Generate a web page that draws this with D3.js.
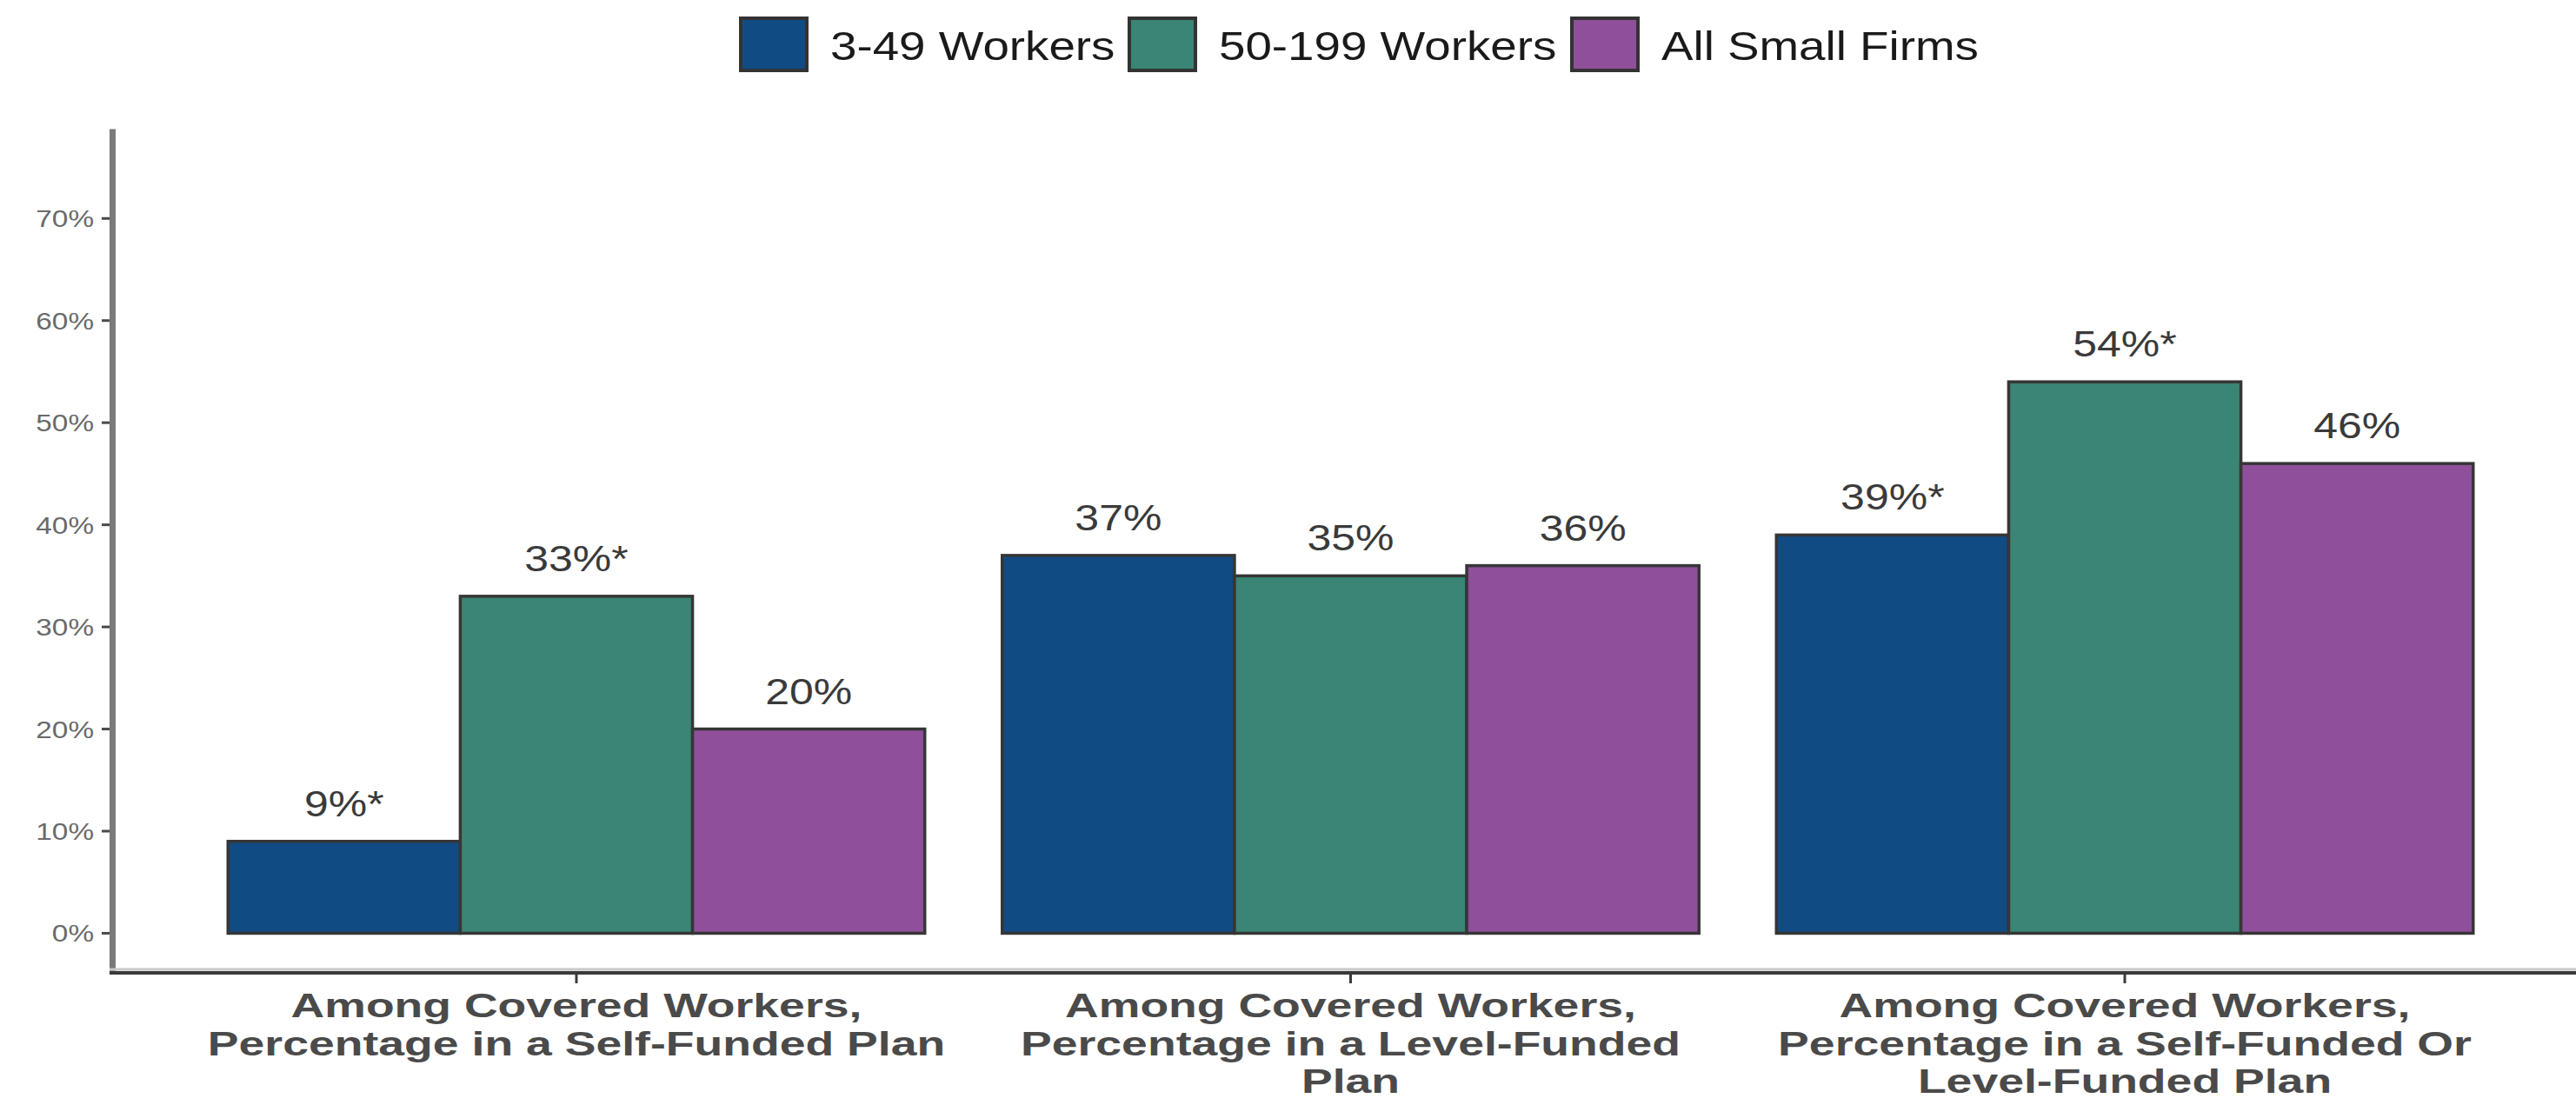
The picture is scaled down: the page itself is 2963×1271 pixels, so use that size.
<!DOCTYPE html>
<html>
<head>
<meta charset="utf-8">
<script src="https://cdn.jsdelivr.net/npm/d3@7"></script>
<style>
  html, body { margin: 0; padding: 0; background: #ffffff; }
  svg { display: block; }
  text { font-family: "Liberation Sans", Arial, Helvetica, sans-serif; }
</style>
</head>
<body>
<svg id="chart" width="2963" height="1271"></svg>
<script>
// Funding arrangements among covered workers at small firms
const categories = [
  ["Among Covered Workers,", "Percentage in a Self-Funded Plan"],
  ["Among Covered Workers,", "Percentage in a Level-Funded", "Plan"],
  ["Among Covered Workers,", "Percentage in a Self-Funded Or", "Level-Funded Plan"]
];
const series = ["3-49 Workers", "50-199 Workers", "All Small Firms"];
const seriesColors = ["#114B84", "#3A8574", "#904F9B"];
const values3to49 = [9, 37, 39];
const values50to199 = [33, 35, 54];
const valuesAllSmall = [20, 36, 46];
const labels3to49 = ["9%*", "37%", "39%*"];
const labels50to199 = ["33%*", "35%", "54%*"];
const labelsAllSmall = ["20%", "36%", "46%"];
const yTicks = [0, 10, 20, 30, 40, 50, 60, 70];

const seriesValues = [values3to49, values50to199, valuesAllSmall];
const seriesLabels = [labels3to49, labels50to199, labelsAllSmall];
const catKeys = categories.map((c, i) => "c" + i);

const svg = d3.select("#chart");
const SX = 1.19; // horizontal text stretch

function stretchedText(sel, x, y, sx = SX) {
  return sel.attr("transform", `translate(${x},${y}) scale(${sx},1)`);
}

// Scales
const x0 = d3.scaleBand().domain(catKeys).range([128.7, 2978.3])
  .paddingInner(0.1).paddingOuter(0.15);
const x1 = d3.scaleBand().domain(series).range([0, x0.bandwidth()]).padding(0);
const y = d3.scaleLinear().domain([-3.75, 78.75]).range([1117.5, 148.5]);
const color = d3.scaleOrdinal().domain(series).range(seriesColors);

// Bars
const rows = [];
catKeys.forEach((k, ci) => {
  series.forEach((s, si) => {
    rows.push({ cat: k, series: s, value: seriesValues[si][ci], label: seriesLabels[si][ci] });
  });
});

svg.append("g").selectAll("rect").data(rows).join("rect")
  .attr("x", d => x0(d.cat) + x1(d.series))
  .attr("y", d => y(d.value))
  .attr("width", x1.bandwidth())
  .attr("height", d => y(0) - y(d.value))
  .attr("fill", d => color(d.series))
  .attr("stroke", "#363636")
  .attr("stroke-width", 3.5);

// Value labels
svg.append("g").selectAll("text").data(rows).join("text")
  .each(function(d) {
    stretchedText(d3.select(this), x0(d.cat) + x1(d.series) + x1.bandwidth() / 2, y(d.value) - 29);
  })
  .attr("text-anchor", "middle")
  .attr("font-size", 42)
  .attr("fill", "#3a3a3a")
  .text(d => d.label);

// Y axis
const yAxisG = svg.append("g");
yAxisG.append("line")
  .attr("x1", 129.5).attr("x2", 129.5)
  .attr("y1", y(78.75)).attr("y2", 1121)
  .attr("stroke", "#7a7a7a").attr("stroke-width", 7);
yAxisG.selectAll("line.tick").data(yTicks).join("line")
  .attr("class", "tick")
  .attr("x1", 117).attr("x2", 126)
  .attr("y1", d => y(d)).attr("y2", d => y(d))
  .attr("stroke", "#4a4a4a").attr("stroke-width", 3);
yAxisG.selectAll("text").data(yTicks).join("text")
  .each(function(d) { stretchedText(d3.select(this), 108, y(d) + 10); })
  .attr("text-anchor", "end")
  .attr("font-size", 28)
  .attr("fill", "#6a6a6a")
  .text(d => d3.format(".0%")(d / 100));

// X axis
const xAxisG = svg.append("g");
xAxisG.append("line")
  .attr("x1", 126).attr("x2", 2963)
  .attr("y1", 1115).attr("y2", 1115)
  .attr("stroke", "#c8c8c8").attr("stroke-width", 3);
xAxisG.append("line")
  .attr("x1", 126).attr("x2", 2963)
  .attr("y1", 1119).attr("y2", 1119)
  .attr("stroke", "#3a3a3a").attr("stroke-width", 4);
xAxisG.selectAll("line.tick").data(catKeys).join("line")
  .attr("class", "tick")
  .attr("x1", d => x0(d) + x0.bandwidth() / 2).attr("x2", d => x0(d) + x0.bandwidth() / 2)
  .attr("y1", 1121).attr("y2", 1131)
  .attr("stroke", "#3a3a3a").attr("stroke-width", 3);

const xLabels = xAxisG.selectAll("g.xlab").data(catKeys).join("g").attr("class", "xlab");
xLabels.each(function(k, ci) {
  const g = d3.select(this);
  categories[ci].forEach((line, li) => {
    stretchedText(g.append("text"), x0(k) + x0.bandwidth() / 2, 1170 + li * 43.5, 1.41)
      .attr("text-anchor", "middle")
      .attr("font-size", 38)
      .attr("font-weight", "bold")
      .attr("fill", "#4a4a4a")
      .text(line);
  });
});

// Legend
const legendX = [852, 1299, 1808];
const legend = svg.append("g").selectAll("g").data(series).join("g");
legend.append("rect")
  .attr("x", (d, i) => legendX[i]).attr("y", 21)
  .attr("width", 76).attr("height", 60)
  .attr("fill", d => color(d))
  .attr("stroke", "#333333").attr("stroke-width", 4);
legend.append("text")
  .each(function(d, i) { stretchedText(d3.select(this), legendX[i] + 103, 69); })
  .attr("font-size", 46)
  .attr("fill", "#1a1a1a")
  .text(d => d);
</script>
</body>
</html>
